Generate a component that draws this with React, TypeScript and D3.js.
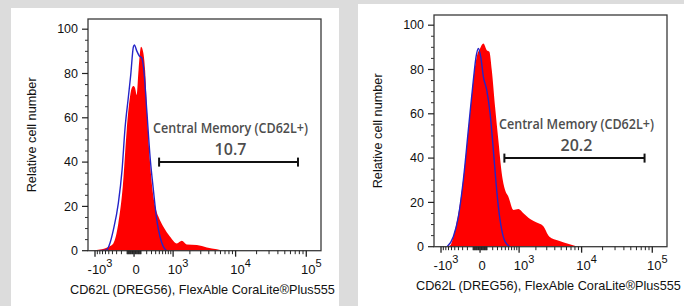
import React, { useEffect, useRef } from "react"
import * as d3 from "d3"

const W = 684
const H = 306

// histogram of the stained sample (red) and the control (blue): fluorescence value -> relative cell number
const leftRedX = [-1244, -792, -522, -378, -262, -175, -106, -65, -31, -9, 13, 36, 62, 101, 139, 170, 201, 269, 344, 411, 473, 625, 871, 1177, 1451, 1774, 2598, 3733, 5300, 6577]
const leftRedY = [0, 0.5, 1.7, 3.3, 12.4, 28.9, 54.5, 67.3, 73.4, 74.4, 73.5, 70.3, 81.6, 92.1, 89.2, 81.6, 65, 39.6, 24.4, 18.4, 15.4, 10.8, 6.3, 3.3, 4.5, 2.8, 2.6, 1.5, 0.6, 0]
const leftBlueX = [-792, -562, -465, -378, -262, -188, -134, -80, -45, -9, 4, 36, 74, 112, 152, 201, 269, 344, 429, 522, 625, 743]
const leftBlueY = [0, 0.3, 3.5, 9.3, 21.5, 36.4, 55.4, 69.4, 79.4, 92, 92.9, 90.2, 87.9, 87, 80.3, 63.6, 42.3, 27.4, 13.9, 6.2, 1.8, 0]

const rightRedX = [-831, -649, -493, -360, -248, -152, -96, -45, 0, 45, 96, 139, 183, 248, 320, 403, 493, 593, 766, 969, 1208, 1593, 2017, 2627, 3270, 4612, 6508, 8140, 10196]
const rightRedY = [0, 0.5, 7.5, 19.6, 37.6, 60.2, 75.2, 85.7, 89.5, 91.7, 88.7, 88, 79.7, 63.1, 48.1, 33.1, 25.6, 22.6, 16.6, 17, 15.1, 12.5, 11, 9.3, 4.6, 2.7, 1.2, 0.3, 0]
const rightBlueX = [-754, -543, -403, -284, -183, -96, -55, -22, 9, 45, 96, 152, 213, 269, 320, 403, 493, 649]
const rightBlueY = [0, 4.5, 13.5, 30.1, 52.6, 75.2, 85.7, 89.5, 85.7, 76.7, 70.7, 60.2, 43.6, 28.6, 18, 7.5, 2.3, 0]

// gates (CD62L+) and their percentages
const leftGate = [493, 76500]
const rightGate = [473, 77960]
const gateLevel = 40
const percents = ["10.7", "20.2"]
const gateTitle = "Central Memory (CD62L+)"

// axes
const xMajorTicks = [-1000, 0, 1000, 10000, 100000]
const xTickBase = ["-10", "0", "10", "10", "10"]
const xTickExp = ["3", "", "3", "4", "5"]
const yTicks = [0, 20, 40, 60, 80, 100]
const xTitle = "CD62L (DREG56), FlexAble CoraLite®Plus555"
const yTitle = "Relative cell number"

const zip = (xs, ys) => xs.map((x, i) => [x, ys[i]])

function App() {
	const mount = useRef(null)

	useEffect(() => {
		const svg = d3.select(mount.current)
		svg.selectAll("*").remove()

		svg.append("rect").attr("width", W).attr("height", H).attr("fill", "#dcdcdc")

		// white cards
		svg.append("rect").attr("x", 11).attr("y", 8).attr("width", 328).attr("height", 300).attr("fill", "#fff")
		svg.append("rect").attr("x", 358).attr("y", 4).attr("width", 330).attr("height", 304).attr("fill", "#fff")

		const panels = [
			{ ox: 11, oy: 8, red: zip(leftRedX, leftRedY), blue: zip(leftBlueX, leftBlueY), gate: leftGate, pct: percents[0] },
			{ ox: 357, oy: 4, red: zip(rightRedX, rightRedY), blue: zip(rightBlueX, rightBlueY), gate: rightGate, pct: percents[1] },
		]

		const left = 77
		const right = 310
		const top = 11
		const bottom = 242.7

		const x = d3.scaleSymlog().constant(400).domain([-1353, 160600]).range([left, right])
		const y = d3.scaleLinear().domain([0, 104.6]).range([bottom, top])

		// minor ticks on the biexponential axis
		const xMinor = []
		for (let d = 10; d < 100; d += 10) xMinor.push(d, -d)
		for (let d = 100; d < 1000; d += 100) xMinor.push(d, -d)
		for (let d = 2000; d < 10000; d += 1000) xMinor.push(d)
		for (let d = 20000; d < 100000; d += 10000) xMinor.push(d)
		const yMinor = d3.range(5, 101, 5).filter(v => v % 20 !== 0)

		panels.forEach((p, idx) => {
			const g = svg.append("g").attr("transform", `translate(${p.ox},${p.oy})`)
			const clipId = "clip" + idx
			g.append("clipPath").attr("id", clipId).append("rect").attr("x", left).attr("y", top).attr("width", right - left).attr("height", bottom - top)

			const area = d3
				.area()
				.x(d => x(d[0]))
				.y0(y(0))
				.y1(d => y(d[1]))
				.curve(d3.curveMonotoneX)
			const line = d3
				.line()
				.x(d => x(d[0]))
				.y(d => y(d[1]))
				.curve(d3.curveMonotoneX)

			g.append("path").attr("d", area(p.red)).attr("fill", "#ff0000").attr("clip-path", `url(#${clipId})`)
			g.append("path").attr("d", line(p.blue)).attr("fill", "none").attr("stroke", "#2424c8").attr("stroke-width", 1.4).attr("clip-path", `url(#${clipId})`)

			// frame
			g.append("rect")
				.attr("x", left)
				.attr("y", top)
				.attr("width", right - left)
				.attr("height", bottom - top)
				.attr("fill", "none")
				.attr("stroke", "#3a3a3a")
				.attr("stroke-width", 1.3)

			// y ticks
			g.selectAll(".ymaj")
				.data(yTicks)
				.enter()
				.append("line")
				.attr("x1", left - 6)
				.attr("x2", left)
				.attr("y1", d => y(d))
				.attr("y2", d => y(d))
				.attr("stroke", "#222")
				.attr("stroke-width", 1.2)
			g.selectAll(".ymin")
				.data(yMinor)
				.enter()
				.append("line")
				.attr("x1", left - 3)
				.attr("x2", left)
				.attr("y1", d => y(d))
				.attr("y2", d => y(d))
				.attr("stroke", "#333")
				.attr("stroke-width", 1)
			g.selectAll(".ylab")
				.data(yTicks)
				.enter()
				.append("text")
				.attr("x", left - 10)
				.attr("y", d => y(d) + 4.3)
				.attr("text-anchor", "end")
				.style("font", "12.5px 'Liberation Sans', Arial, sans-serif")
				.attr("fill", "#111")
				.text(d => d)

			// x ticks
			g.selectAll(".xmin")
				.data(xMinor)
				.enter()
				.append("line")
				.attr("x1", d => x(d))
				.attr("x2", d => x(d))
				.attr("y1", bottom)
				.attr("y2", bottom + 3.5)
				.attr("stroke", "#222")
				.attr("stroke-width", 1)
			g.selectAll(".xmaj")
				.data(xMajorTicks)
				.enter()
				.append("line")
				.attr("x1", d => x(d))
				.attr("x2", d => x(d))
				.attr("y1", bottom)
				.attr("y2", bottom + 6)
				.attr("stroke", "#222")
				.attr("stroke-width", 1.3)
			const xl = g
				.selectAll(".xlab")
				.data(xMajorTicks)
				.enter()
				.append("text")
				.attr("x", (d, i) => x(d) + (xTickExp[i] ? 5 : 2))
				.attr("y", 265.5)
				.attr("text-anchor", "middle")
				.style("font", "13px 'Liberation Sans', Arial, sans-serif")
				.attr("fill", "#111")
			xl.append("tspan").text((d, i) => xTickBase[i])
			xl.append("tspan")
				.attr("dy", -6.5)
				.style("font-size", "11px")
				.text((d, i) => xTickExp[i])

			// axis titles
			g.append("text")
				.attr("x", 59)
				.attr("y", 286)
				.style("font", "12.7px 'Liberation Sans', Arial, sans-serif")
				.attr("fill", "#111")
				.text(xTitle)
			g.append("text")
				.attr("transform", `translate(25,${(top + bottom) / 2}) rotate(-90)`)
				.attr("text-anchor", "middle")
				.style("font", "12.7px 'Liberation Sans', Arial, sans-serif")
				.attr("fill", "#111")
				.text(yTitle)

			// gate bar
			const gy = y(gateLevel)
			const gx0 = x(p.gate[0])
			const gx1 = x(p.gate[1])
			g.append("line").attr("x1", gx0).attr("x2", gx1).attr("y1", gy).attr("y2", gy).attr("stroke", "#111").attr("stroke-width", 2)
			;[gx0, gx1].forEach(gx => {
				g.append("line").attr("x1", gx).attr("x2", gx).attr("y1", gy - 4.5).attr("y2", gy + 4.5).attr("stroke", "#111").attr("stroke-width", 2)
			})
			const cx = (gx0 + gx1) / 2 + 2
			g.append("text")
				.attr("x", cx)
				.attr("y", gy - 29)
				.attr("text-anchor", "middle")
				.attr("textLength", 155)
				.attr("lengthAdjust", "spacingAndGlyphs")
				.style("font", "600 14.5px 'Open Sans', 'Noto Sans', sans-serif")
				.attr("fill", "#4d4d4d")
				.text(gateTitle)
			g.append("text")
				.attr("x", cx)
				.attr("y", gy - 7)
				.attr("text-anchor", "middle")
				.style("font", "600 16px 'Open Sans', 'Noto Sans', sans-serif")
				.attr("fill", "#4d4d4d")
				.text(p.pct)
		})
	}, [])

	return (
		<div style={{ position: "absolute", left: 0, top: 0, width: W, height: H, overflow: "hidden" }}>
			<svg ref={mount} width={W} height={H} style={{ display: "block" }} />
		</div>
	)
}

export default App
